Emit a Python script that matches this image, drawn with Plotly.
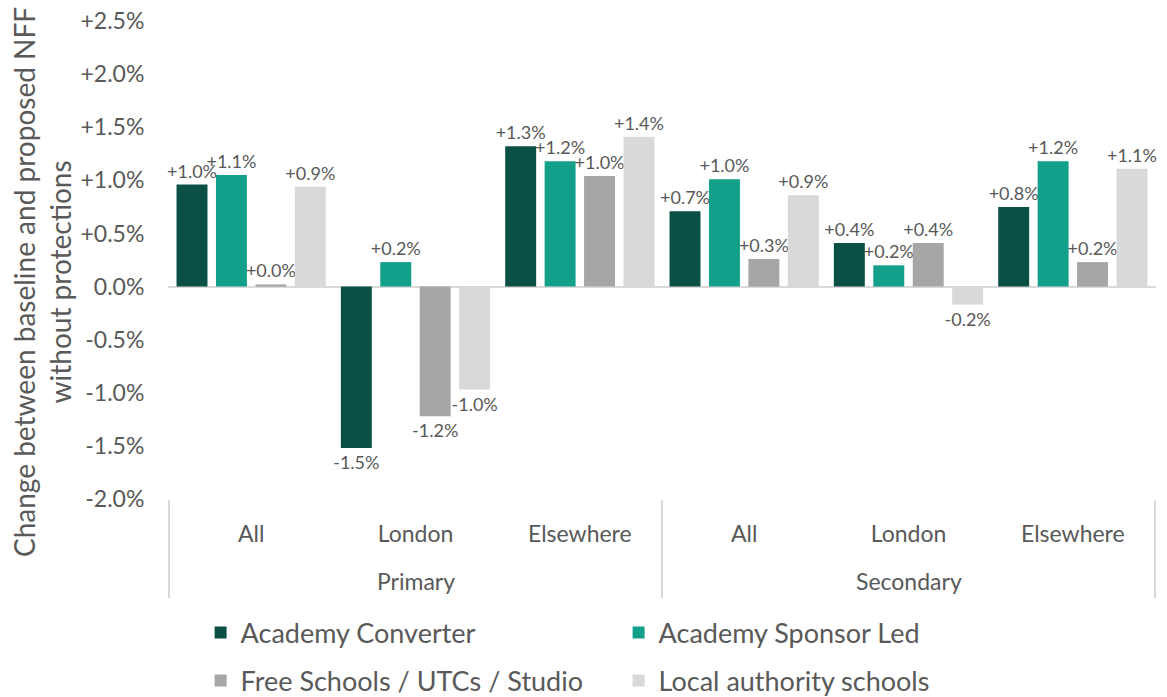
import plotly.graph_objects as go

phases = ["Primary", "Primary", "Primary", "Secondary", "Secondary", "Secondary"]
regions = ["All", "London", "Elsewhere", "All", "London", "Elsewhere"]
phase_labels = ["Primary", "Secondary"]

series_names = [
    "Academy Converter",
    "Academy Sponsor Led",
    "Free Schools / UTCs / Studio",
    "Local authority schools",
]
academy_converter = [0.96, -1.52, 1.32, 0.71, 0.41, 0.75]
academy_sponsor_led = [1.05, 0.23, 1.18, 1.01, 0.20, 1.18]
free_schools = [0.02, -1.22, 1.04, 0.26, 0.41, 0.23]
local_authority = [0.94, -0.97, 1.41, 0.86, -0.17, 1.11]
series_values = [academy_converter, academy_sponsor_led, free_schools, local_authority]
colors = ["#0B5045", "#13A08A", "#A6A6A6", "#D9D9D9"]

y_ticks = [-2.0, -1.5, -1.0, -0.5, 0.0, 0.5, 1.0, 1.5, 2.0, 2.5]
y_title = "Change between baseline and proposed NFF<br>without protections"


def fmt(v):
    if abs(v) < 1e-9:
        return "0.0%"
    return f"{v:+.1f}%"


FONT = "Lato, 'Liberation Sans', sans-serif"
TXT = "#595959"
LINE = "#D9D9D9"

keys = [f"{p} {r}" for p, r in zip(phases, regions)]

fig = go.Figure()
for i, (name, vals, col) in enumerate(zip(series_names, series_values, colors)):
    fig.add_trace(
        go.Bar(
            name=name,
            x=keys,
            y=vals,
            marker=dict(color=col, line=dict(width=0)),
            text=[f"{v:+.1f}%" for v in vals],
            textposition="outside",
            textfont=dict(family=FONT, size=18, color=TXT),
            constraintext="none",
            cliponaxis=False,
            legend="legend" if i < 2 else "legend2",
        )
    )

# plot area: x 168..1156, y 21..499
L, R, T, B = 168, 11, 21, 198
W, H = 1167, 697
plot_h = float(H - T - B)
plot_w = float(W - L - R)
outer_y = (499 - 581) / plot_h
div_bottom = (499 - 598) / plot_h

# group (phase) labels centred under their categories
for ph in phase_labels:
    idx = [i for i, p in enumerate(phases) if p == ph]
    mid = keys[idx[len(idx) // 2]]
    fig.add_annotation(
        x=mid, xref="x", y=outer_y, yref="paper",
        text=ph, showarrow=False, yanchor="middle",
        font=dict(family=FONT, size=23, color=TXT),
    )

# dividers between phase groups
bounds = [-0.5]
for i in range(1, len(phases)):
    if phases[i] != phases[i - 1]:
        bounds.append(i - 0.5)
bounds.append(len(phases) - 0.5)
for b in bounds:
    fig.add_shape(
        type="line", xref="x", yref="paper",
        x0=b, x1=b, y0=-0.002, y1=div_bottom,
        line=dict(color=LINE, width=2),
    )

# y-axis title (rotated), centred slightly below the plot middle as in the reference
fig.add_annotation(
    x=(42 - L) / plot_w, xref="paper", xanchor="center",
    y=(499 - 282) / plot_h, yref="paper", yanchor="middle",
    text=y_title, textangle=-90, showarrow=False,
    font=dict(family=FONT, size=28, color=TXT),
)

legend_common = dict(
    orientation="h",
    x=0.033,
    xanchor="left",
    yanchor="middle",
    entrywidth=373,
    entrywidthmode="pixels",
    itemwidth=30,
    font=dict(family=FONT, size=27, color=TXT),
    bgcolor="rgba(0,0,0,0)",
)

fig.update_layout(
    width=W,
    height=H,
    margin=dict(l=L, r=R, t=T, b=B, autoexpand=False),
    paper_bgcolor="white",
    plot_bgcolor="white",
    barmode="group",
    bargap=0.04,
    bargroupgap=0.215,
    font=dict(family=FONT, color=TXT),
    showlegend=True,
    legend=dict(legend_common, y=(499 - 633) / plot_h),
    legend2=dict(legend_common, y=(499 - 681) / plot_h),
)

fig.update_yaxes(
    range=[-2.0, 2.5],
    tickvals=y_ticks,
    ticktext=[fmt(v) for v in y_ticks],
    tickfont=dict(family=FONT, size=23, color=TXT),
    showgrid=False,
    zeroline=True,
    zerolinecolor=LINE,
    zerolinewidth=2,
    showline=False,
    ticks="outside",
    ticklen=18,
    tickcolor="rgba(0,0,0,0)",
    automargin=False,
)

fig.update_xaxes(
    type="category",
    tickvals=keys,
    ticktext=regions,
    tickfont=dict(family=FONT, size=23, color=TXT),
    showgrid=False,
    showline=False,
    ticks="outside",
    ticklen=14,
    tickcolor="rgba(0,0,0,0)",
    automargin=False,
)

fig.write_html(
    "out.html",
    config={"displayModeBar": False},
    post_script="document.body.style.margin='0';document.body.style.overflow='hidden';",
)
